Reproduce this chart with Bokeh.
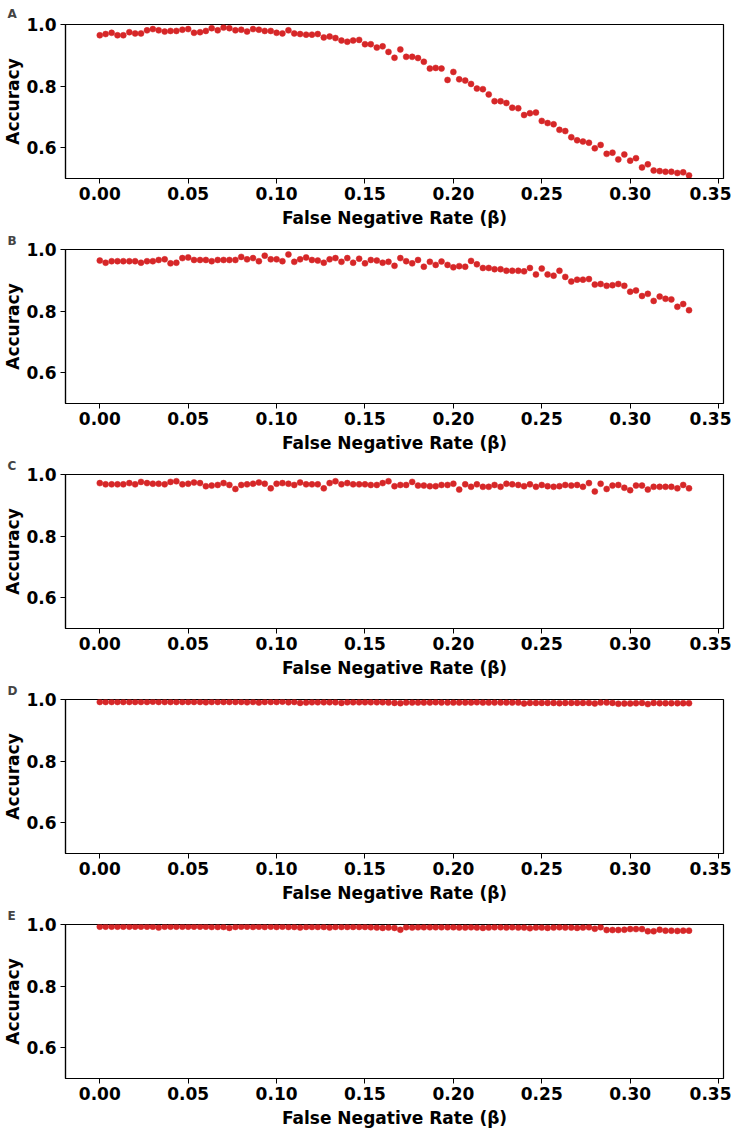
from bokeh.plotting import figure
from bokeh.layouts import column
from bokeh.models import Range1d, FixedTicker, ColumnDataSource
from bokeh.embed import file_html
from bokeh.resources import INLINE

beta = [0.0, 0.0033, 0.0067, 0.01, 0.0133, 0.0167, 0.02, 0.0233, 0.0267, 0.03,
        0.0333, 0.0367, 0.04, 0.0433, 0.0467, 0.05, 0.0533, 0.0567, 0.06, 0.0633,
        0.0667, 0.07, 0.0733, 0.0767, 0.08, 0.0833, 0.0867, 0.09, 0.0933, 0.0967,
        0.1, 0.1033, 0.1067, 0.11, 0.1133, 0.1167, 0.12, 0.1233, 0.1267, 0.13,
        0.1333, 0.1367, 0.14, 0.1433, 0.1467, 0.15, 0.1533, 0.1567, 0.16, 0.1633,
        0.1667, 0.17, 0.1733, 0.1767, 0.18, 0.1833, 0.1867, 0.19, 0.1933, 0.1967,
        0.2, 0.2033, 0.2067, 0.21, 0.2133, 0.2167, 0.22, 0.2233, 0.2267, 0.23,
        0.2333, 0.2367, 0.24, 0.2433, 0.2467, 0.25, 0.2533, 0.2567, 0.26, 0.2633,
        0.2667, 0.27, 0.2733, 0.2767, 0.28, 0.2833, 0.2867, 0.29, 0.2933, 0.2967,
        0.3, 0.3033, 0.3067, 0.31, 0.3133, 0.3167, 0.32, 0.3233, 0.3267, 0.33,
        0.3333]

acc_A = [0.965, 0.969, 0.973, 0.965, 0.965, 0.975, 0.971, 0.971, 0.981, 0.985,
         0.981, 0.977, 0.979, 0.979, 0.983, 0.985, 0.973, 0.975, 0.979, 0.988,
         0.981, 0.990, 0.988, 0.981, 0.983, 0.977, 0.985, 0.983, 0.979, 0.979,
         0.973, 0.971, 0.981, 0.971, 0.969, 0.967, 0.967, 0.969, 0.958, 0.961,
         0.956, 0.948, 0.944, 0.948, 0.950, 0.936, 0.936, 0.925, 0.929, 0.911,
         0.892, 0.919, 0.895, 0.895, 0.891, 0.879, 0.857, 0.859, 0.857, 0.820,
         0.846, 0.822, 0.818, 0.807, 0.792, 0.790, 0.773, 0.751, 0.751, 0.745,
         0.730, 0.728, 0.706, 0.712, 0.714, 0.687, 0.680, 0.676, 0.658, 0.654,
         0.634, 0.624, 0.620, 0.616, 0.598, 0.609, 0.580, 0.584, 0.562, 0.578,
         0.558, 0.566, 0.536, 0.546, 0.526, 0.524, 0.522, 0.522, 0.518, 0.520,
         0.510]

acc_B = [0.964, 0.957, 0.962, 0.962, 0.962, 0.962, 0.962, 0.957, 0.962, 0.962,
         0.966, 0.968, 0.955, 0.957, 0.972, 0.974, 0.966, 0.966, 0.966, 0.962,
         0.966, 0.966, 0.966, 0.966, 0.976, 0.968, 0.972, 0.962, 0.980, 0.968,
         0.968, 0.962, 0.984, 0.960, 0.968, 0.974, 0.966, 0.964, 0.957, 0.968,
         0.972, 0.960, 0.972, 0.957, 0.970, 0.955, 0.966, 0.964, 0.957, 0.960,
         0.947, 0.972, 0.962, 0.955, 0.966, 0.944, 0.960, 0.950, 0.961, 0.950,
         0.942, 0.946, 0.944, 0.963, 0.952, 0.940, 0.940, 0.936, 0.936, 0.931,
         0.931, 0.931, 0.929, 0.940, 0.919, 0.938, 0.919, 0.915, 0.931, 0.911,
         0.896, 0.902, 0.902, 0.904, 0.886, 0.888, 0.882, 0.884, 0.888, 0.882,
         0.863, 0.867, 0.849, 0.856, 0.833, 0.847, 0.840, 0.838, 0.814, 0.823,
         0.803]

acc_C = [0.972, 0.968, 0.968, 0.968, 0.968, 0.972, 0.968, 0.976, 0.972, 0.970,
         0.970, 0.968, 0.976, 0.978, 0.968, 0.970, 0.974, 0.972, 0.962, 0.964,
         0.966, 0.972, 0.966, 0.953, 0.966, 0.968, 0.970, 0.974, 0.970, 0.955,
         0.970, 0.972, 0.970, 0.966, 0.974, 0.968, 0.968, 0.968, 0.955, 0.972,
         0.978, 0.968, 0.972, 0.968, 0.968, 0.968, 0.966, 0.966, 0.972, 0.978,
         0.962, 0.966, 0.966, 0.976, 0.964, 0.964, 0.962, 0.962, 0.966, 0.966,
         0.970, 0.951, 0.968, 0.960, 0.968, 0.960, 0.960, 0.966, 0.960, 0.970,
         0.968, 0.966, 0.962, 0.968, 0.960, 0.966, 0.962, 0.960, 0.962, 0.966,
         0.964, 0.966, 0.960, 0.972, 0.945, 0.970, 0.953, 0.964, 0.966, 0.957,
         0.949, 0.964, 0.964, 0.951, 0.960, 0.960, 0.960, 0.960, 0.955, 0.966,
         0.955]

acc_D = [0.992, 0.992, 0.992, 0.992, 0.992, 0.992, 0.992, 0.992, 0.992, 0.993,
         0.992, 0.992, 0.992, 0.992, 0.992, 0.992, 0.992, 0.992, 0.991, 0.992,
         0.992, 0.992, 0.992, 0.992, 0.992, 0.991, 0.992, 0.990, 0.992, 0.992,
         0.992, 0.993, 0.991, 0.992, 0.989, 0.990, 0.991, 0.991, 0.991, 0.991,
         0.991, 0.989, 0.991, 0.991, 0.991, 0.991, 0.991, 0.991, 0.991, 0.990,
         0.989, 0.988, 0.990, 0.990, 0.990, 0.990, 0.990, 0.991, 0.990, 0.990,
         0.990, 0.990, 0.990, 0.990, 0.991, 0.990, 0.990, 0.990, 0.990, 0.990,
         0.990, 0.990, 0.987, 0.989, 0.989, 0.989, 0.989, 0.989, 0.988, 0.989,
         0.989, 0.989, 0.989, 0.989, 0.987, 0.990, 0.990, 0.989, 0.986, 0.987,
         0.987, 0.988, 0.989, 0.985, 0.989, 0.988, 0.988, 0.988, 0.988, 0.988,
         0.988]

acc_E = [0.993, 0.993, 0.993, 0.993, 0.993, 0.993, 0.993, 0.993, 0.993, 0.993,
         0.990, 0.993, 0.993, 0.993, 0.993, 0.993, 0.993, 0.993, 0.993, 0.992,
         0.992, 0.992, 0.989, 0.992, 0.993, 0.993, 0.992, 0.993, 0.992, 0.993,
         0.992, 0.993, 0.992, 0.992, 0.990, 0.992, 0.992, 0.992, 0.992, 0.990,
         0.992, 0.992, 0.992, 0.992, 0.992, 0.992, 0.991, 0.990, 0.989, 0.990,
         0.989, 0.983, 0.991, 0.990, 0.991, 0.991, 0.991, 0.991, 0.991, 0.991,
         0.991, 0.990, 0.990, 0.991, 0.990, 0.989, 0.990, 0.991, 0.991, 0.990,
         0.991, 0.990, 0.990, 0.988, 0.990, 0.990, 0.989, 0.990, 0.991, 0.990,
         0.990, 0.989, 0.990, 0.991, 0.986, 0.991, 0.982, 0.982, 0.982, 0.983,
         0.985, 0.985, 0.985, 0.978, 0.978, 0.983, 0.980, 0.980, 0.979, 0.980,
         0.980]

panel_letters = ["A", "B", "C", "D", "E"]
series = [acc_A, acc_B, acc_C, acc_D, acc_E]
x_ticks = [0.0, 0.05, 0.10, 0.15, 0.20, 0.25, 0.30, 0.35]
y_ticks = [0.6, 0.8, 1.0]

FONT = "DejaVu Sans"
RED = "#d62728"

figs = []
for k, (letter, acc) in enumerate(zip(panel_letters, series)):
    top = 23 if k == 0 else 18
    p = figure(width=731, height=160 + top + 47, output_backend="svg", toolbar_location=None,
               x_range=Range1d(-0.0194, 0.3528), y_range=Range1d(0.5, 1.0),
               min_border_left=64, min_border_right=8, min_border_top=top,
               min_border_bottom=47, title=letter)
    p.title.text_font = FONT
    p.title.text_font_size = "12px"
    p.title.text_font_style = "bold"
    p.title.align = "left"
    p.title.offset = -58
    p.title.standoff = top - 15
    src = ColumnDataSource(dict(x=beta, y=acc))
    p.scatter("x", "y", source=src, size=6, fill_color=RED, line_color=RED, line_width=0.5)

    p.xgrid.visible = False
    p.ygrid.visible = False
    p.outline_line_color = "black"
    p.outline_line_width = 1.2
    p.background_fill_color = "white"

    p.xaxis.ticker = FixedTicker(ticks=x_ticks)
    p.xaxis.major_label_overrides = {t: f"{t:.2f}" for t in x_ticks}
    p.yaxis.ticker = FixedTicker(ticks=y_ticks)
    p.yaxis.major_label_overrides = {t: f"{t:.1f}" for t in y_ticks}
    for ax in (p.xaxis, p.yaxis):
        ax.minor_tick_line_color = None
        ax.major_tick_out = 5
        ax.major_tick_in = 0
        ax.axis_line_color = "black"
        ax.axis_line_width = 1.2
        ax.major_tick_line_color = "black"
        ax.major_label_text_font = FONT
        ax.major_label_text_font_style = "bold"
        ax.major_label_text_font_size = "17px"
        ax.major_label_text_color = "black"
        ax.axis_label_text_font = FONT
        ax.axis_label_text_font_style = "bold"
        ax.axis_label_text_font_size = "17px"
        ax.axis_label_text_color = "black"
    p.xaxis.axis_label = "False Negative Rate (β)"
    p.yaxis.axis_label = "Accuracy"
    p.xaxis.major_label_standoff = 3
    p.xaxis.axis_label_standoff = 5
    p.yaxis.major_label_standoff = 4
    p.yaxis.axis_label_standoff = 0
    figs.append(p)

layout = column(*figs, spacing=0)
open("out.html", "w").write(file_html(layout, INLINE))
